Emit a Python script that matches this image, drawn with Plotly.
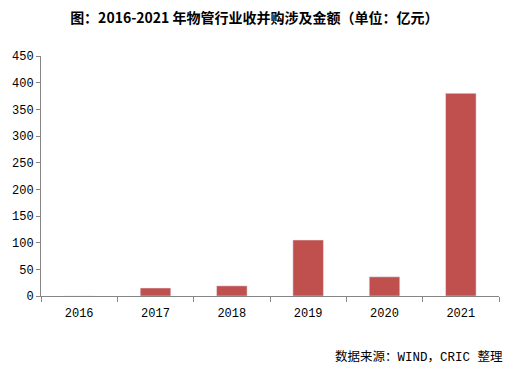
import plotly.graph_objects as go

years = ["2016", "2017", "2018", "2019", "2020", "2021"]
amounts = [0, 15, 19, 105, 36, 380]
y_ticks = [0, 50, 100, 150, 200, 250, 300, 350, 400, 450]

tick_font = dict(size=12, family="Liberation Mono, Noto Sans CJK SC", color="black")

fig = go.Figure(go.Bar(x=years, y=amounts, marker_color="#C0504D", width=0.4))

fig.update_layout(
    width=509, height=375,
    margin=dict(l=33, r=18, t=48, b=87),
    paper_bgcolor="white", plot_bgcolor="white",
    showlegend=False,
    font=dict(family="Noto Sans CJK SC", size=12, color="black"),
    title=dict(text="<b>图：2016-2021 年物管行业收并购涉及金额（单位：亿元）</b>",
               x=0.484, xref="container", xanchor="center", y=0.973, yanchor="middle",
               font=dict(size=14, family="Noto Sans CJK SC", color="black")),
)
fig.update_xaxes(type="category", showline=True, linecolor="#868686", linewidth=1,
                 ticks="outside", tickson="boundaries", ticklen=5, tickcolor="#868686",
                 ticklabelstandoff=6,
                 showgrid=False, automargin=False, tickfont=tick_font)
fig.update_yaxes(range=[0, 450], tickvals=y_ticks, showline=True, linecolor="#868686",
                 linewidth=1, ticks="outside", ticklen=4, tickcolor="#868686",
                 showgrid=False, zeroline=False, automargin=False, tickfont=tick_font)
fig.add_annotation(text="数据来源：WIND，CRIC 整理", xref="paper", yref="paper",
                   x=1.013, y=-0.254, xanchor="right", yanchor="middle", showarrow=False,
                   font=dict(size=12.5, family="Liberation Mono, Noto Sans CJK SC", color="black"))

fig.write_html("out.html")
